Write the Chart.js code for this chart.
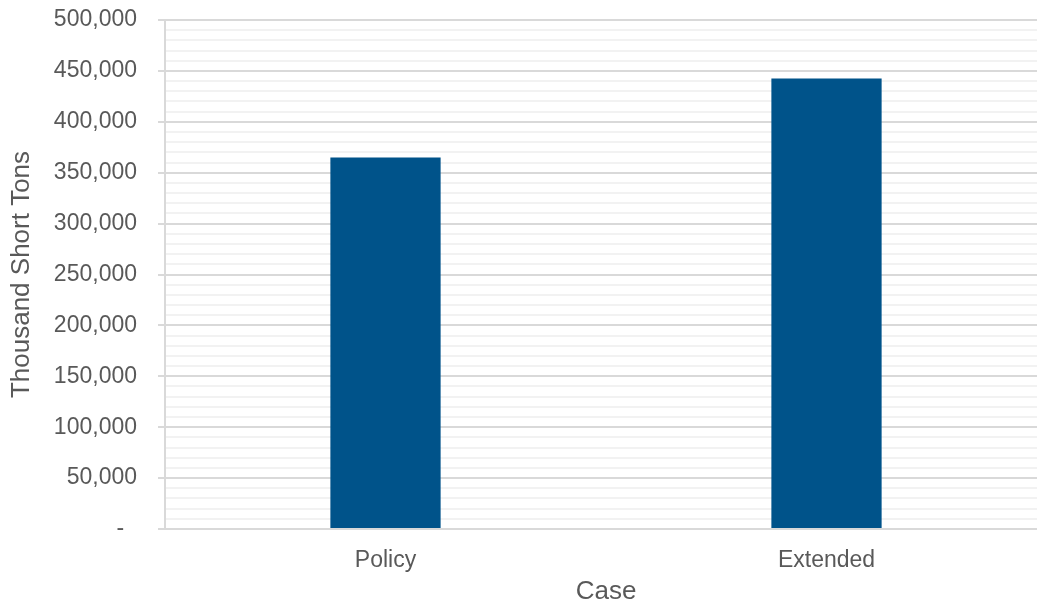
<!DOCTYPE html>
<html>
<head>
<meta charset="utf-8">
<script src="https://cdn.jsdelivr.net/npm/chart.js@4/dist/chart.umd.min.js"></script>
<style>
  html, body { margin: 0; padding: 0; background: #ffffff; overflow: hidden; }
  #wrap { width: 1047px; height: 607px; }
</style>
</head>
<body>
<div id="wrap"><canvas id="caseChart" width="1047" height="607"></canvas></div>
<script>
// ------------------------------
// Chart data
// ------------------------------
const cases = ["Policy", "Extended"];
const tons = [365000, 442500];   // thousand short tons

const yMin = 0;
const yMax = 500000;
const minorStep = 10000;
const majorStep = 50000;

const textColor = "#595959";
const majorGrid = "#d9d9d9";
const minorGrid = "#f2f2f2";
const barColor = "#00538a";

Chart.defaults.font.family = "'Liberation Sans', Arial, sans-serif";
Chart.defaults.color = textColor;

const ctx = document.getElementById("caseChart");

new Chart(ctx, {
    type: "bar",
    data: {
        labels: cases,
        datasets: [
            {
                label: "Thousand Short Tons",
                data: tons,
                backgroundColor: barColor,
                borderWidth: 0,
                categoryPercentage: 1.0,
                barPercentage: 0.25
            }
        ]
    },
    options: {
        responsive: false,
        animation: false,
        devicePixelRatio: 1,
        layout: {
            padding: { top: 20, right: 0, bottom: 0, left: 0 }
        },
        plugins: {
            legend: { display: false },
            title: { display: false },
            tooltip: { enabled: false }
        },
        scales: {
            x: {
                grid: { display: false },
                border: { display: true, color: majorGrid, width: 2 },
                ticks: {
                    color: textColor,
                    font: { size: 23 },
                    padding: 10
                },
                title: {
                    display: true,
                    text: "Case",
                    color: textColor,
                    font: { size: 26 },
                    padding: { top: 0, bottom: 0 }
                },
                afterFit: (scale) => {
                    scale.height = 78;
                    scale.paddingLeft = 0;
                    scale.paddingRight = 0;
                }
            },
            y: {
                min: yMin,
                max: yMax,
                border: { display: true, color: majorGrid, width: 2 },
                grid: {
                    color: (c) => (c.tick && c.tick.value % majorStep === 0) ? majorGrid : minorGrid,
                    lineWidth: 2,
                    tickLength: 7,
                    tickColor: (c) => (c.tick && c.tick.value % majorStep === 0) ? majorGrid : "rgba(0,0,0,0)"
                },
                ticks: {
                    stepSize: minorStep,
                    maxTicksLimit: 100,
                    autoSkip: false,
                    color: textColor,
                    font: { size: 23 },
                    padding: 21,
                    callback: (v) => {
                        if (v % majorStep !== 0) return "";
                        if (v === 0) return "-  ";
                        return v.toLocaleString("en-US");
                    }
                },
                title: {
                    display: true,
                    text: "Thousand Short Tons",
                    color: textColor,
                    font: { size: 26 },
                    padding: { top: 6, bottom: 0 }
                },
                afterFit: (scale) => {
                    scale.width = 165;
                    scale.paddingTop = 0;
                    scale.paddingBottom = 0;
                }
            }
        }
    }
});
</script>
</body>
</html>
